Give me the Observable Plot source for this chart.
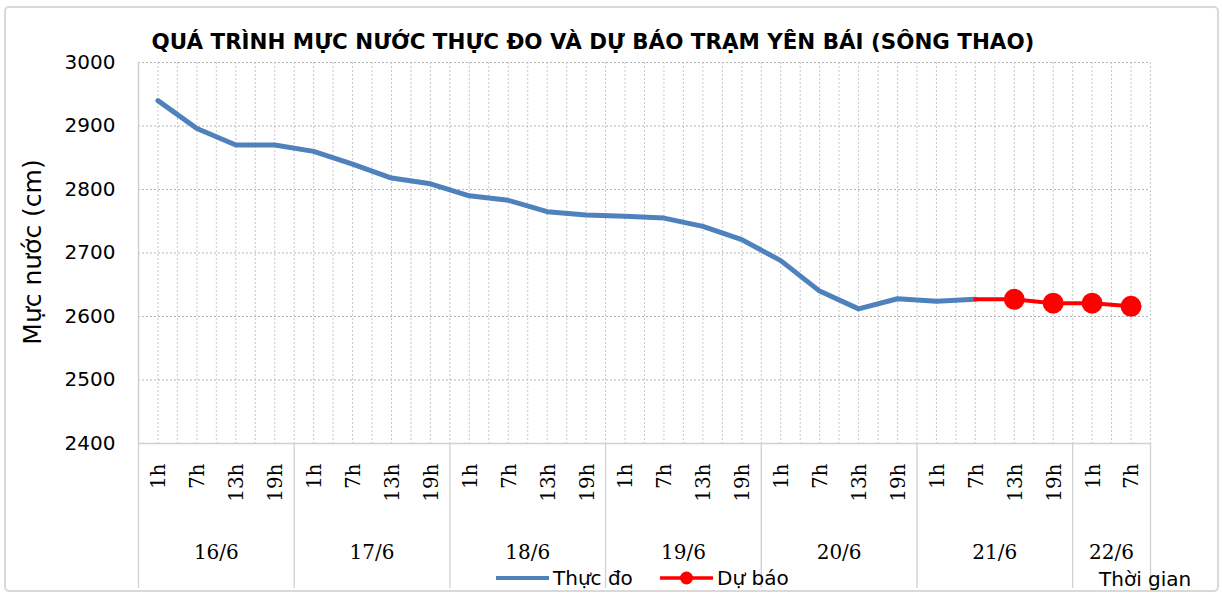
<!DOCTYPE html>
<html><head><meta charset="utf-8">
<script src="https://cdn.jsdelivr.net/npm/d3@7"></script>
<script src="https://cdn.jsdelivr.net/npm/@observablehq/plot@0.6"></script>
<style>
html,body{margin:0;padding:0;background:#fff;}
#chart{position:relative;width:1222px;height:596px;}
</style></head><body><div id="chart"></div>
<script>
const title = "QUÁ TRÌNH MỰC NƯỚC THỰC ĐO VÀ DỰ BÁO TRẠM YÊN BÁI (SÔNG THAO)";
const yLabel = "Mực nước (cm)";
const xLabel = "Thời gian";
const seriesNames = ["Thực đo", "Dự báo"];
const days = ["16/6","17/6","18/6","19/6","20/6","21/6","22/6"];
const hoursPerDay = [4,4,4,4,4,4,2];
const hourLabels = ["1h","7h","13h","19h","1h","7h","13h","19h","1h","7h","13h","19h",
  "1h","7h","13h","19h","1h","7h","13h","19h","1h","7h","13h","19h","1h","7h"];
const observed = [2940,2896,2870,2870,2860,2840,2818,2809,2790,2783,2765,2760,2758,
  2755,2742,2721,2688,2640,2612,2628,2624,2627];
const forecastStart = 21; // forecast line starts at 21/6 7h
const forecast = [2627,2627,2621,2621,2616];
const yTicks = [2400,2500,2600,2700,2800,2900,3000];

const blue = "#4f81bd", red = "#ff0000", grid = "#b4b4b4", axisCol = "#d0d0d0";
const sans = "DejaVu Sans", serif = "DejaVu Serif";

const n = hourLabels.length;
const obs = observed.map((v,i)=>({i, v}));
const fc = forecast.map((v,k)=>({i: forecastStart+k, v}));
const hourData = hourLabels.map((h,i)=>({i, h}));
let start = 0;
const groups = days.map((d,k)=>{ const g = {day:d, start, center: start+(hoursPerDay[k]-1)/2}; start += hoursPerDay[k]; return g; });
const bounds = groups.map(g=>g.start-0.5).concat([n-0.5]);
const vgrid = d3.range(0, 2*n+1).map(k=>-0.5+k*0.5).filter(x=>x>-0.5);

const W = 1222, H = 596;
const plot = Plot.plot({
  width: W, height: H,
  marginLeft: 138, marginRight: 72, marginTop: 62, marginBottom: 153,
  style: {fontFamily: sans, fontSize: "20px", color: "#000", background: "#fff"},
  x: {domain: [-0.5, n-0.5], axis: null},
  y: {domain: [2400, 3000], axis: null},
  marks: [
    Plot.ruleY(yTicks.filter(t=>t>2400), {y: d=>d, stroke: grid, strokeDasharray: "2,2", strokeWidth: 1}),
    Plot.ruleX(vgrid, {x: d=>d, stroke: "#c8c8c8", strokeDasharray: "2,2", strokeWidth: 1}),
    Plot.ruleX(bounds, {x: d=>d, stroke: axisCol, strokeWidth: 1.3, insetTop: 381, insetBottom: -145}),
    Plot.ruleX([-0.5], {x: d=>d, stroke: axisCol, strokeWidth: 1.5}),
    Plot.ruleY([2400], {y: d=>d, stroke: axisCol, strokeWidth: 1.5}),
    Plot.axisY(yTicks, {tickSize: 0, tickPadding: 23, fontSize: 20, fontFamily: sans, label: null, tickFormat: d=>String(d)}),
    Plot.text(hourData, {x: "i", text: "h", frameAnchor: "bottom", rotate: -90, textAnchor: "end", lineAnchor: "middle", dy: 20, dx: 1, fontFamily: serif, fontSize: 20, fill: "#000"}),
    Plot.text(groups, {x: "center", text: "day", frameAnchor: "bottom", dy: 115, fontFamily: serif, fontSize: 20, fill: "#000"}),
    Plot.line(obs, {x: "i", y: "v", stroke: blue, strokeWidth: 5, curve: "linear"}),
    Plot.line(fc, {x: "i", y: "v", stroke: red, strokeWidth: 4}),
    Plot.dot(fc.slice(1), {x: "i", y: "v", r: 10.5, fill: red, stroke: "none"})
  ]
});
document.getElementById("chart").appendChild(plot);

const svg = d3.select(plot);
svg.insert("rect", ":first-child").attr("x",5).attr("y",7).attr("width",1213).attr("height",584)
  .attr("rx",4).attr("fill","#fff").attr("stroke","#d9d9d9").attr("stroke-width",2);

const t = svg.append("text").attr("x",593).attr("y",49).attr("text-anchor","middle")
  .attr("font-family",sans).attr("font-weight","bold").attr("font-size",20).attr("fill","#000").text(title);
const tl = t.node().getComputedTextLength();
t.attr("font-size", 20*883/tl);

svg.append("text").attr("transform","translate(41,252) rotate(-90)").attr("text-anchor","middle")
  .attr("font-family",sans).attr("font-size",25).attr("fill","#000").text(yLabel);

svg.append("text").attr("x",1099).attr("y",586).attr("text-anchor","start").attr("font-family",sans).attr("font-size",20)
  .attr("fill","#000").text(xLabel);

// legend
const lg = svg.append("g").attr("font-family",sans).attr("font-size",20).attr("fill","#000").attr("text-anchor","start");
lg.append("line").attr("x1",496).attr("x2",549).attr("y1",578).attr("y2",578).attr("stroke",blue).attr("stroke-width",4);
lg.append("text").attr("x",553).attr("y",585).text(seriesNames[0]);
lg.append("line").attr("x1",660).attr("x2",713).attr("y1",578).attr("y2",578).attr("stroke",red).attr("stroke-width",3.5);
lg.append("circle").attr("cx",686.5).attr("cy",578).attr("r",6.5).attr("fill",red);
lg.append("text").attr("x",717).attr("y",585).text(seriesNames[1]);
</script></body></html>
